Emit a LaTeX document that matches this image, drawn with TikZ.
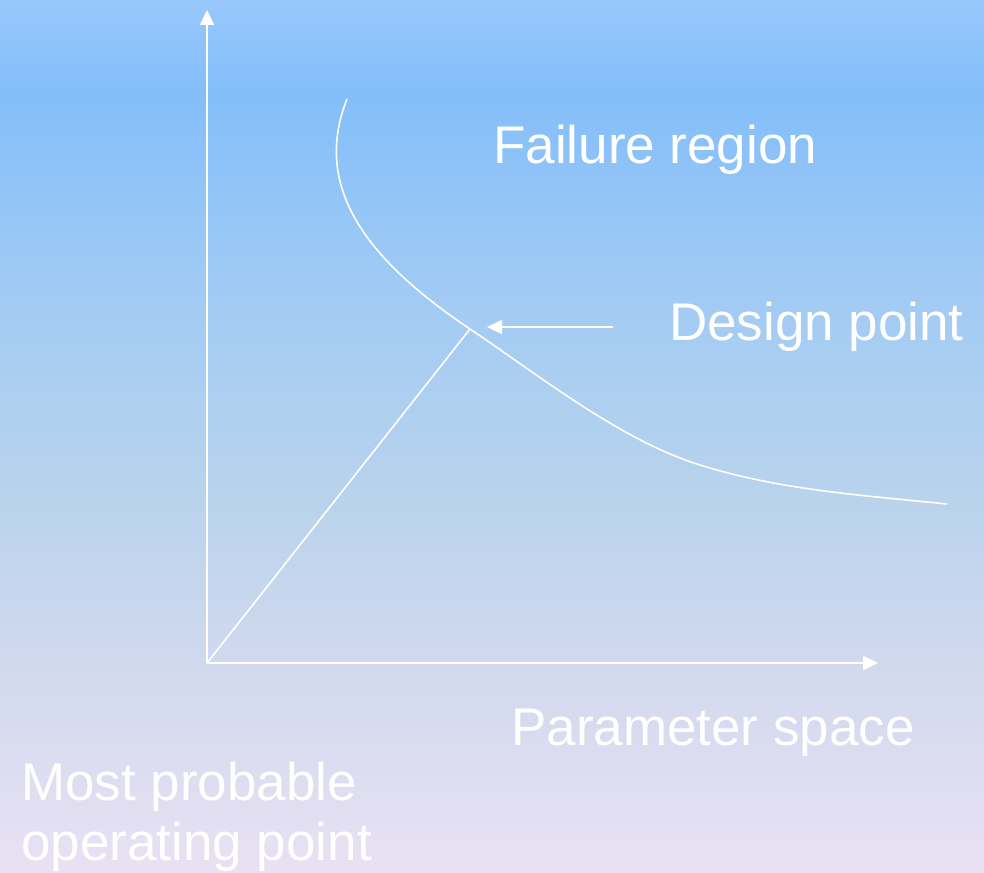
\documentclass[tikz,border=0pt]{standalone}
\usepackage{fontspec}
\setmainfont{Liberation Sans}
\usetikzlibrary{arrows.meta}
\definecolor{c0}{HTML}{98C8FB}
\definecolor{c1}{HTML}{83BEFA}
\definecolor{c2}{HTML}{A2CBF4}
\definecolor{c3}{HTML}{B9D3EC}
\definecolor{c4}{HTML}{D0D9EE}
\definecolor{c5}{HTML}{E9E1F3}
\tikzset{
  axis/.style={white, line width=2pt, -{Triangle[length=15pt,width=14pt]}},
  wline/.style={white, line width=1.6pt},
  lbl/.style={text=white, font=\fontsize{53}{60}\selectfont, inner sep=0pt, anchor=base west},
}
\begin{document}
\begin{tikzpicture}[x=1pt,y=-1pt]
\useasboundingbox (0,0) rectangle (984,872);
\shade[top color=c0, bottom color=c1] (0,0) rectangle (984,91);
\shade[top color=c1, bottom color=c2] (0,90) rectangle (984,301);
\shade[top color=c2, bottom color=c3] (0,300) rectangle (984,501);
\shade[top color=c3, bottom color=c4] (0,500) rectangle (984,661);
\shade[top color=c4, bottom color=c5] (0,660) rectangle (984,872);

\coordinate (O) at (207,663);
\coordinate (ytip) at (207,10);
\coordinate (xtip) at (878,663);
\coordinate (dp) at (470,329);
\coordinate (cstart) at (347,99);
\coordinate (cend) at (947,504);
\coordinate (arrstart) at (613,327);
\coordinate (arrtip) at (487,327);

\draw[axis] (O) -- (ytip);
\draw[axis] (O) -- (xtip);
\draw[wline] (O) -- (dp);
\draw[wline] (cstart) .. controls (315,180) and (355,252) .. (dp)
  .. controls (540,376) and (620,440) .. (700,465)
  .. controls (780,490) and (860,495) .. (cend);
\draw[axis] (arrstart) -- (arrtip);

\node[lbl] (fail) at (493,163) {Failure region};
\node[lbl] (design) at (669,340) {Design point};
\node[lbl] (param) at (511,745) {Parameter space};
\node[lbl, align=left, anchor=north west] (most) at (21,762) {Most probable\\operating point};
\end{tikzpicture}
\end{document}
